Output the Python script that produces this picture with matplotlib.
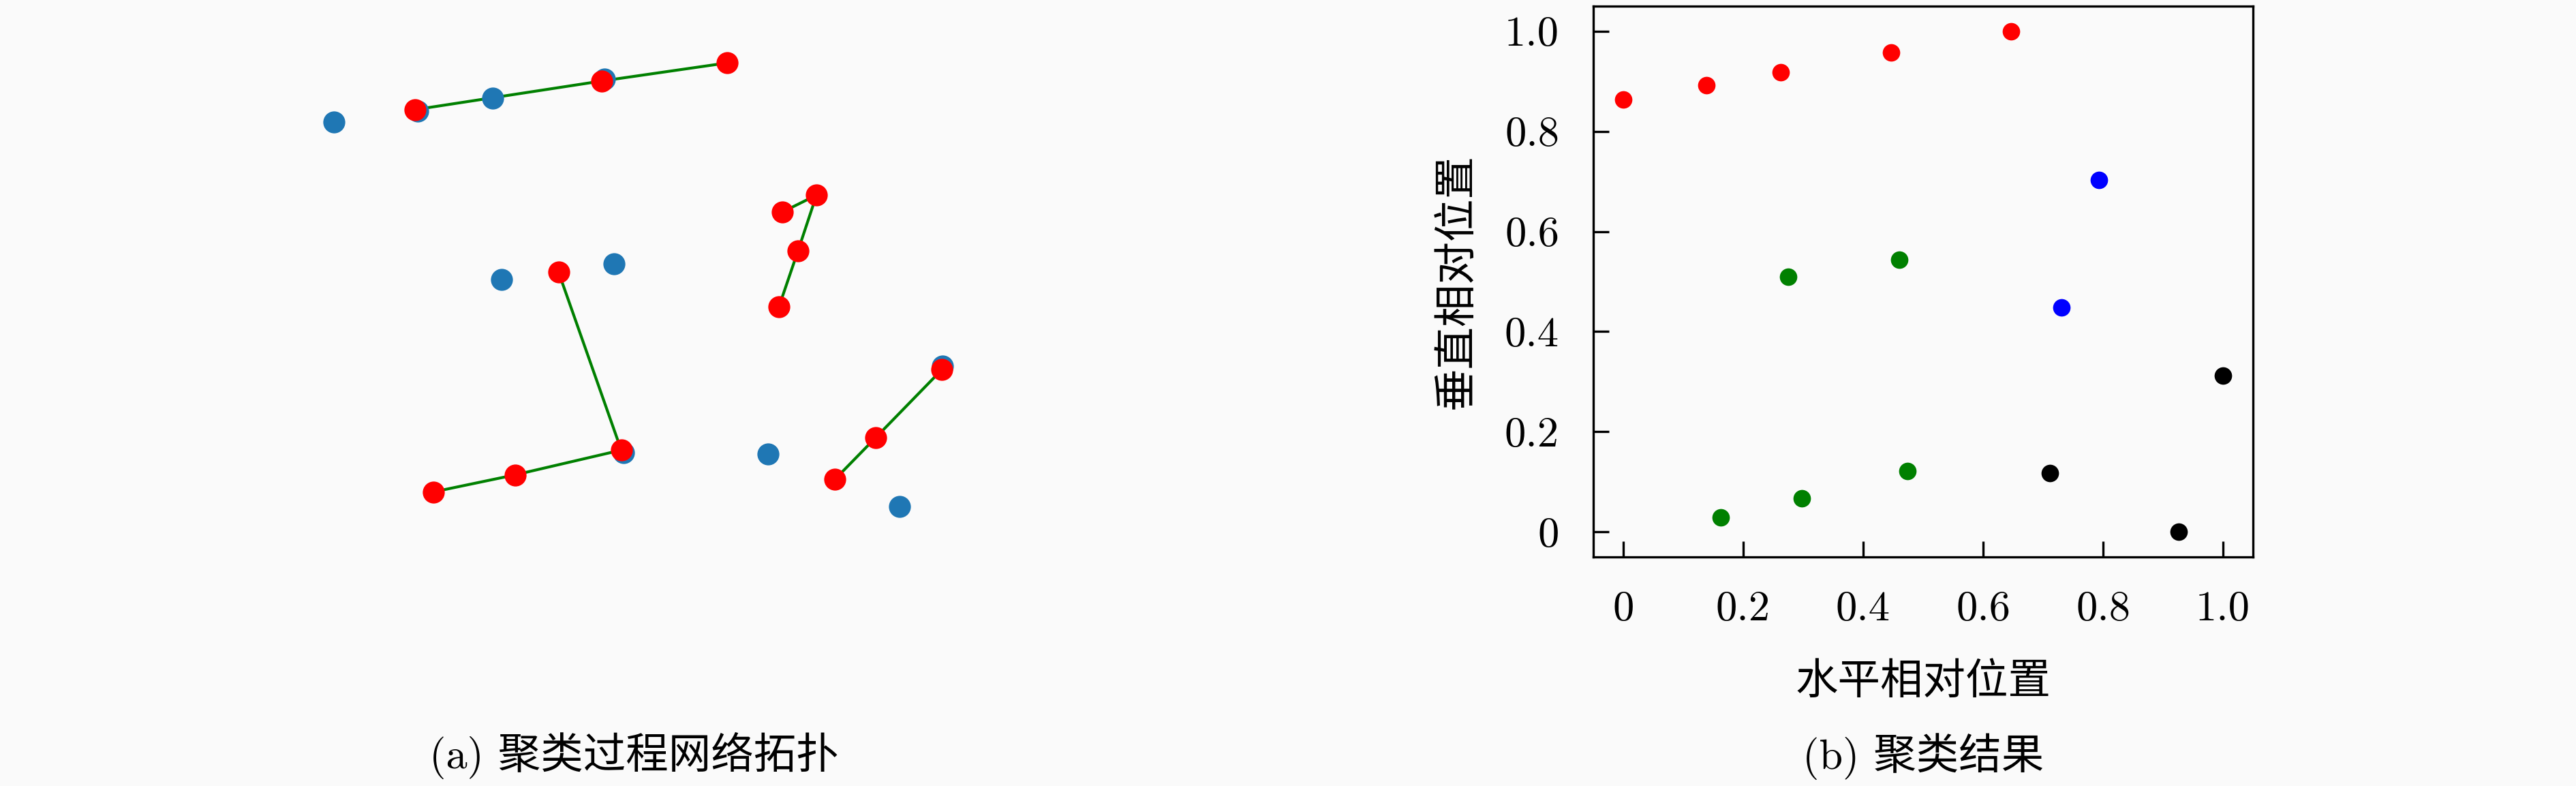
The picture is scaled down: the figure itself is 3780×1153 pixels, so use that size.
import matplotlib
matplotlib.use("Agg")
import matplotlib.pyplot as plt

plt.rcParams['font.family'] = ['cmr10', 'Noto Sans CJK SC', 'DejaVu Sans']
plt.rcParams['axes.formatter.use_mathtext'] = True
plt.rcParams['mathtext.fontset'] = 'cm'

# ---------------- data: panel (a) network topology ----------------
blue_x = [0.045, 0.286, 0.300, 0.470, 0.704, 0.903, 0.173, 0.456, 0.485, 0.968]
blue_y = [0.790, 0.833, 0.504, 0.532, 0.187, 0.092, 0.809, 0.868, 0.189, 0.347]

red_x = [0.168, 0.451, 0.642, 0.725, 0.777, 0.749, 0.720, 0.386, 0.481, 0.320, 0.196, 0.967, 0.867, 0.805]
red_y = [0.812, 0.864, 0.897, 0.626, 0.657, 0.556, 0.454, 0.517, 0.194, 0.149, 0.118, 0.340, 0.217, 0.141]

edges = [(0, 1), (1, 2), (3, 4), (4, 5), (5, 6), (7, 8), (8, 9), (9, 10), (11, 12), (12, 13)]

# ---------------- data: panel (b) clustering result ----------------
red_cx = [0.000, 0.139, 0.262, 0.447, 0.647]
red_cy = [0.863, 0.892, 0.918, 0.957, 1.000]
green_cx = [0.275, 0.460, 0.162, 0.298, 0.474]
green_cy = [0.509, 0.544, 0.029, 0.067, 0.121]
blue_cx = [0.793, 0.731]
blue_cy = [0.703, 0.448]
black_cx = [1.000, 0.711, 0.926]
black_cy = [0.312, 0.117, 0.000]

tick_vals = [0, 0.2, 0.4, 0.6, 0.8, 1.0]
tick_labels = ['0', '0.2', '0.4', '0.6', '0.8', '1.0']

xlabel = '水平相对位置'
ylabel = '垂直相对位置'
caption_a = '(a) 聚类过程网络拓扑'
caption_b = '(b) 聚类结果'

bg = '#fafafa'
W, H, DPI = 3780, 1153, 300
fig = plt.figure(figsize=(W / DPI, H / DPI), dpi=DPI, facecolor=bg)

# ---------------- panel (a) ----------------
ax1 = fig.add_axes([446 / W, 1 - 817 / H, 968 / W, 808 / H])
ax1.set_facecolor(bg)
ax1.set_xlim(0, 1)
ax1.set_ylim(0, 1)
ax1.axis('off')
for a, b in edges:
    ax1.plot([red_x[a], red_x[b]], [red_y[a], red_y[b]], color='green', lw=1.0, zorder=1)
ax1.scatter(blue_x, blue_y, s=60, color='#1f77b4', zorder=2, linewidths=0)
ax1.scatter(red_x, red_y, s=60, color='red', zorder=3, linewidths=0)

# ---------------- panel (b) ----------------
ax2 = fig.add_axes([2338 / W, 1 - 817 / H, 968 / W, 808 / H])
ax2.set_facecolor(bg)
ax2.scatter(red_cx, red_cy, s=38, color='red', linewidths=0)
ax2.scatter(green_cx, green_cy, s=38, color='green', linewidths=0)
ax2.scatter(blue_cx, blue_cy, s=38, color='blue', linewidths=0)
ax2.scatter(black_cx, black_cy, s=38, color='black', linewidths=0)
ax2.set_xlim(-0.05, 1.05)
ax2.set_ylim(-0.05, 1.05)
ax2.set_xticks(tick_vals)
ax2.set_xticklabels(tick_labels)
ax2.set_yticks(tick_vals)
ax2.set_yticklabels(tick_labels)
ax2.tick_params(direction='in', length=5.5, width=0.8, labelsize=15, pad=12,
                top=False, right=False)
for sp in ax2.spines.values():
    sp.set_linewidth(0.8)
ax2.set_xlabel(xlabel, fontsize=15, labelpad=12)
ax2.set_ylabel(ylabel, fontsize=15, labelpad=10)

# ---------------- captions ----------------
fig.text(930 / W, 1 - 1108 / H, caption_a, ha='center', va='center', fontsize=15)
fig.text(2822 / W, 1 - 1110 / H, caption_b, ha='center', va='center', fontsize=15)

fig.savefig('out.png', dpi=DPI, facecolor=bg)
